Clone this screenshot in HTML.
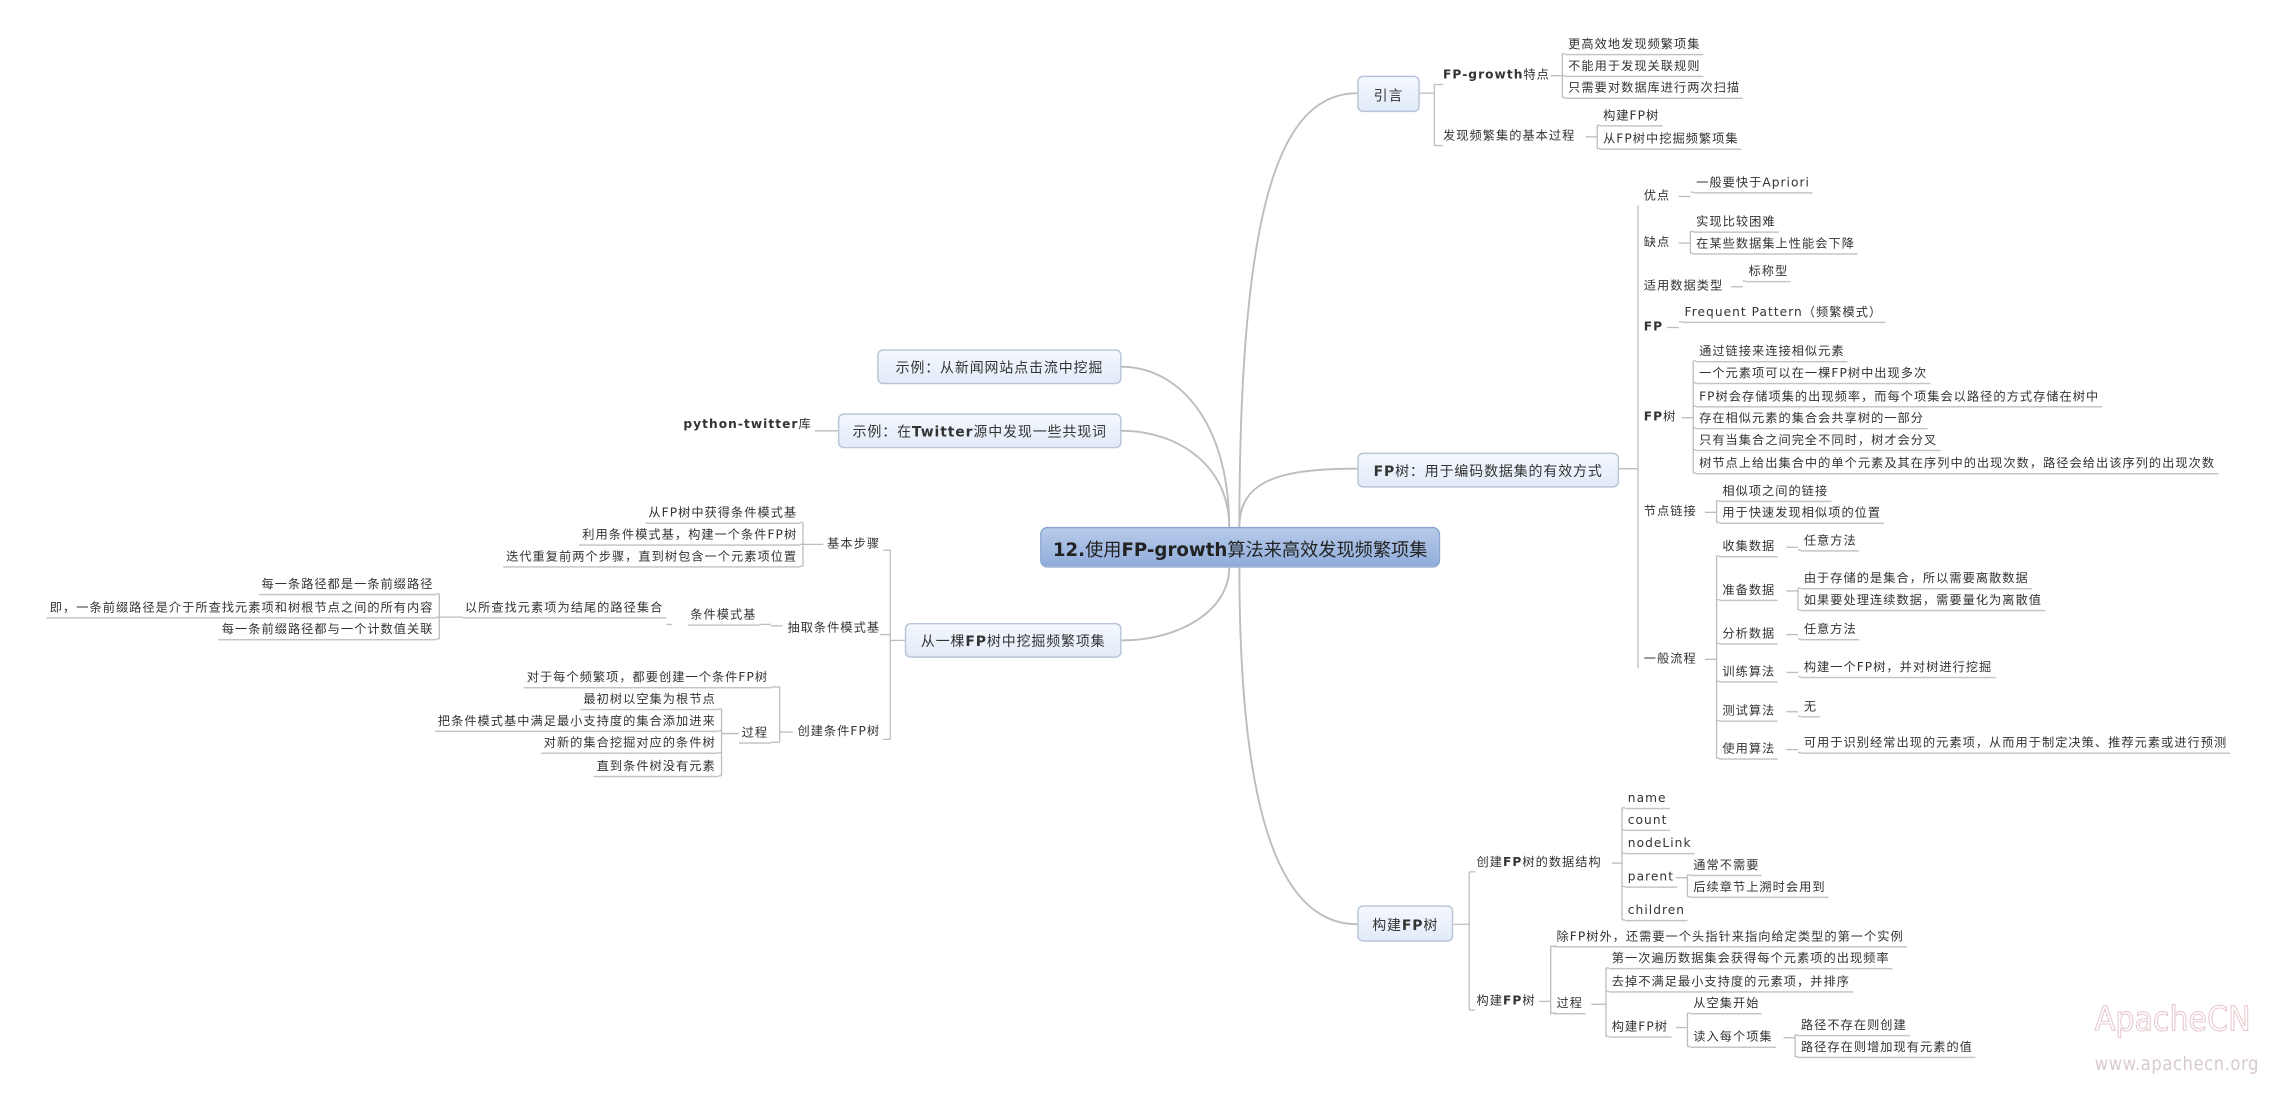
<!DOCTYPE html>
<html><head><meta charset="utf-8">
<style>
html,body{margin:0;padding:0;background:#fff;}
body{width:2281px;height:1096px;overflow:hidden;position:relative;}
#w{position:absolute;left:0;top:0;width:1568px;height:753px;transform:scale(1.4547,1.4555);transform-origin:0 0;font-family:"DejaVu Sans","Noto Sans CJK SC",sans-serif;color:#333;}
.t{position:absolute;font-size:8.4px;letter-spacing:0.72px;line-height:11px;white-space:nowrap;padding:0 2px 1px 2px;}
.u{border-bottom:0.8px solid #c4c4c4;}
.b{font-weight:bold;letter-spacing:0.3px;}
.box{position:absolute;border:1px solid #b8c4d8;border-radius:4px;background:linear-gradient(#f4f8fe,#e2ebf8);font-size:9.6px;letter-spacing:0.6px;display:flex;align-items:center;justify-content:center;white-space:nowrap;color:#333;box-sizing:border-box;}
#c{position:absolute;left:715px;top:362px;width:275px;height:28px;border:1px solid #8aa6cf;border-radius:5px;background:linear-gradient(#b8cbe9,#8facdb);font-size:12.5px;display:flex;align-items:center;justify-content:center;white-space:nowrap;color:#222;box-sizing:border-box;}
svg{position:absolute;left:0;top:0;}
.wm1{position:absolute;left:1440px;top:688px;font-size:23px;color:#fff;-webkit-text-stroke:0.7px #e6c8cc;font-family:"DejaVu Sans Condensed","DejaVu Sans",sans-serif;}
.wm2{position:absolute;left:1440px;top:723px;font-size:12.5px;color:#d8cacc;font-family:"DejaVu Sans Condensed","DejaVu Sans",sans-serif;letter-spacing:0.4px;}
</style></head><body>
<div id="w">
<svg id="s" width="1568" height="753" fill="none" stroke="#bdbdbd" stroke-width="0.9">
<path d="M852 362 C852 140,880 64,933 64" stroke-width="1.3"/>
<path d="M852 362 C852 330,880 322,933 322" stroke-width="1.3"/>
<path d="M852 390 C852 560,880 635,933 635" stroke-width="1.3"/>
<path d="M845 362 C845 290,810 252,771 252" stroke-width="1.3"/>
<path d="M845 362 C845 320,810 296,771 296" stroke-width="1.3"/>
<path d="M845 390 C845 420,810 440,771 440" stroke-width="1.3"/>
</svg>
<div id="c"><span><b style="font-family:'DejaVu Sans'">12.</b>使用<b style="font-family:'DejaVu Sans'">FP-growth</b>算法来高效发现频繁项集</span></div>
<div class="box" style="left:933px;top:52px;width:43px;height:25px">引言</div>
<div class="box" style="left:933px;top:311px;width:180px;height:24px"><span><b>FP</b>树：用于编码数据集的有效方式</span></div>
<div class="box" style="left:933px;top:622px;width:66px;height:25px"><span>构建<b>FP</b>树</span></div>
<div class="box" style="left:603px;top:240px;width:168px;height:24px">示例：从新闻网站点击流中挖掘</div>
<div class="box" style="left:576px;top:284px;width:195px;height:24px"><span>示例：在<b>Twitter</b>源中发现一些共现词</span></div>
<div class="box" style="left:622px;top:428px;width:149px;height:24px"><span>从一棵<b>FP</b>树中挖掘频繁项集</span></div>
<div class="wm1">ApacheCN</div>
<div class="wm2">www.apachecn.org</div>
</div>
<script>
var W=document.getElementById('w'),S=document.getElementById('s');
function T(x,y,h,ul,right){var d=document.createElement('div');d.className='t'+(ul?' u':'');d.innerHTML=h;d.style.top=(y-6)+'px';if(right){d.style.right=(1568-x)+'px';}else d.style.left=x+'px';W.appendChild(d);return d;}
function P(d){var p=document.createElementNS('http://www.w3.org/2000/svg','path');p.setAttribute('d',d);S.appendChild(p);}
function V(x,y1,y2){P('M'+x+' '+y1+' L'+x+' '+y2);}
function H(x1,x2,y){P('M'+x1+' '+y+' L'+x2+' '+y);}
function GR(px,py,bx,cx,items){H(px,bx,py);var ys=items.map(function(i){return i[0]+6;});V(bx,Math.min.apply(0,ys),Math.max.apply(0,ys));items.forEach(function(i){T(cx,i[0],i[1],true);H(bx,cx,i[0]+6);});}
function GL(px,py,bx,cx,items){H(bx,px,py);var ys=items.map(function(i){return i[0]+6;});V(bx,Math.min.apply(0,ys),Math.max.apply(0,ys));items.forEach(function(i){T(cx,i[0],i[1],true,true);H(cx,bx,i[0]+6);});}
H(976,986,64);V(986,58,100);H(986,992,58);H(986,992,100);
T(990,52,'<b>FP-growth</b>特点');T(990,94,'发现频繁集的基本过程');
GR(1066,52,1074,1076,[[31,'更高效地发现频繁项集'],[46,'不能用于发现关联规则'],[61,'只需要对数据库进行两次扫描']]);
GR(1090,94,1098,1100,[[80,'构建FP树'],[96,'从FP树中挖掘频繁项集']]);
H(1113,1126,322);V(1126,141,459);
[[135,'优点'],[167,'缺点'],[197,'适用数据类型'],[225,'<b>FP</b>'],[287,'<b>FP</b>树'],[352,'节点链接'],[453,'一般流程']].forEach(function(i){T(1128,i[0],i[1]);});
GR(1154,135,1162,1164,[[126,'一般要快于Apriori']]);
GR(1154,167,1162,1164,[[153,'实现比较困难'],[168,'在某些数据集上性能会下降']]);
GR(1190,197,1198,1200,[[187,'标称型']]);
GR(1146,225,1154,1156,[[215,'Frequent Pattern（频繁模式）']]);
GR(1156,287,1164,1166,[[242,'通过链接来连接相似元素'],[257,'一个元素项可以在一棵FP树中出现多次'],[273,'FP树会存储项集的出现频率，而每个项集会以路径的方式存储在树中'],[288,'存在相似元素的集合会共享树的一部分'],[303,'只有当集合之间完全不同时，树才会分叉'],[319,'树节点上给出集合中的单个元素及其在序列中的出现次数，路径会给出该序列的出现次数']]);
GR(1172,352,1180,1182,[[338,'相似项之间的链接'],[353,'用于快速发现相似项的位置']]);
GR(1172,453,1180,1182,[[376,'收集数据'],[406,'准备数据'],[436,'分析数据'],[462,'训练算法'],[489,'测试算法'],[515,'使用算法']]);
GR(1228,376,1236,1238,[[372,'任意方法']]);
GR(1228,406,1236,1238,[[398,'由于存储的是集合，所以需要离散数据'],[413,'如果要处理连续数据，需要量化为离散值']]);
GR(1228,436,1236,1238,[[433,'任意方法']]);
GR(1228,462,1236,1238,[[459,'构建一个FP树，并对树进行挖掘']]);
GR(1228,489,1236,1238,[[486,'无']]);
GR(1228,515,1236,1238,[[511,'可用于识别经常出现的元素项，从而用于制定决策、推荐元素或进行预测']]);
H(999,1010,635);V(1010,599,694);H(1010,1014,599);H(1010,1014,694);
T(1013,593,'创建<b>FP</b>树的数据结构');T(1013,688,'构建<b>FP</b>树');
GR(1108,593,1115,1117,[[549,'name'],[564,'count'],[580,'nodeLink'],[603,'parent'],[626,'children']]);
GR(1152,603,1160,1162,[[595,'通常不需要'],[610,'后续章节上溯时会用到']]);
V(1066,650,697);H(1058,1066,688);
T(1068,644,'除FP树外，还需要一个头指针来指向给定类型的第一个实例',true);H(1066,1070,650);
T(1068,690,'过程',true);H(1066,1070,696);
GR(1094,690,1104,1106,[[659,'第一次遍历数据集会获得每个元素项的出现频率'],[675,'去掉不满足最小支持度的元素项，并排序'],[706,'构建FP树']]);
GR(1152,706,1160,1162,[[690,'从空集开始'],[713,'读入每个项集']]);
GR(1226,713,1234,1236,[[705,'路径不存在则创建'],[720,'路径存在则增加现有元素的值']]);
T(560,292,'<b>python-twitter</b>库',false,true);H(560,576,296);
H(612,622,440);V(612,378,508);
T(607,374,'基本步骤',false,true);T(607,432,'抽取条件模式基',false,true);T(607,503,'创建条件FP树',false,true);
H(607,612,378);H(607,612,508);H(605,612,436);
GL(566,374,552,550,[[353,'从FP树中获得条件模式基'],[368,'利用条件模式基，构建一个条件FP树'],[383,'迭代重复前两个步骤，直到树包含一个元素项位置']]);
GL(538,430,530,522,[[423,'条件模式基']]);
GL(462,429,458,458,[[418,'以所查找元素项为结尾的路径集合']]);
GL(318,424,302,300,[[402,'每一条路径都是一条前缀路径'],[418,'即，一条前缀路径是介于所查找元素项和树根节点之间的所有内容'],[433,'每一条前缀路径都与一个计数值关联']]);
GL(545,503,536,530,[[466,'对于每个频繁项，都要创建一个条件FP树'],[504,'过程']]);
GL(508,504,496,494,[[481,'最初树以空集为根节点'],[496,'把条件模式基中满足最小支持度的集合添加进来'],[511,'对新的集合挖掘对应的条件树'],[527,'直到条件树没有元素']]);
</script>
</body></html>
